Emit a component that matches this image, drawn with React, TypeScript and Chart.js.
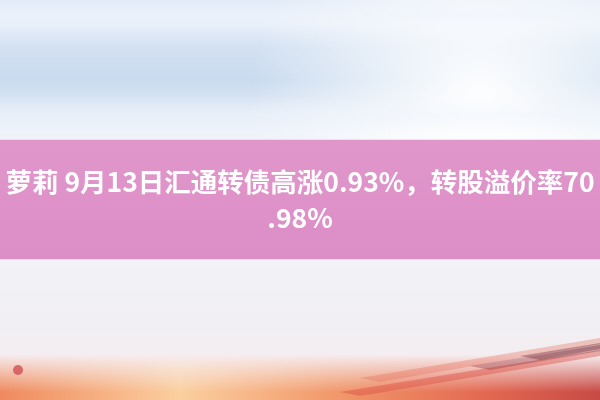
import { useEffect, useRef } from "react";
import Chart from "chart.js/auto";
import type { ChartConfiguration, Plugin } from "chart.js/auto";

// banner "data": one floating band across the picture, plus the headline
const bandLabels = ["headline"];
const bandRange: [number, number][] = [[140, 259]];
const headlineLines = ["萝莉 9月13日汇通转债高涨0.93%，转股溢价率70", ".98%"];
const headlineY = [182, 218];

const softBand = (ctx: CanvasRenderingContext2D, y0: number, y1: number, color: string, width: number) => {
  const g = ctx.createLinearGradient(0, y0, 0, y1);
  g.addColorStop(0, color.replace("A", "0"));
  g.addColorStop(0.5, color.replace("A", "1"));
  g.addColorStop(1, color.replace("A", "0"));
  ctx.fillStyle = g;
  ctx.fillRect(0, y0, width, y1 - y0);
};

const backdrop: Plugin<"bar"> = {
  id: "backdrop",
  beforeDraw(chart) {
    const { ctx, width, height } = chart;
    ctx.save();
    // sky
    const sky = ctx.createLinearGradient(0, 0, 0, height);
    sky.addColorStop(0, "#e2ebf7");
    sky.addColorStop(0.06, "#e8eff9");
    sky.addColorStop(0.12, "#d3e1f2");
    sky.addColorStop(0.2, "#c9dbef");
    sky.addColorStop(0.26, "#dae5f3");
    sky.addColorStop(0.33, "#eef3fa");
    sky.addColorStop(0.66, "#f2f2f7");
    sky.addColorStop(0.8, "#f1eff4");
    sky.addColorStop(1, "#f6ecee");
    ctx.fillStyle = sky;
    ctx.fillRect(0, 0, width, height);

    // bright glow to the right of the sky
    const glow = ctx.createRadialGradient(480, 100, 10, 480, 100, 230);
    glow.addColorStop(0, "rgba(255,255,255,0.95)");
    glow.addColorStop(1, "rgba(255,255,255,0)");
    ctx.fillStyle = glow;
    ctx.fillRect(0, 0, width, 140);

    // soft cloud streaks
    ctx.globalAlpha = 0.5;
    softBand(ctx, 0, 30, "rgba(240,245,252,A)", width);
    softBand(ctx, 95, 135, "rgba(240,245,252,A)", width);
    ctx.globalAlpha = 1;

    // sunset band at the bottom
    const sunset = ctx.createLinearGradient(0, 0, width, 0);
    sunset.addColorStop(0, "#ef8a5e");
    sunset.addColorStop(0.3, "#fbcf9f");
    sunset.addColorStop(0.55, "#f29a6c");
    sunset.addColorStop(0.8, "#e46a52");
    sunset.addColorStop(1, "#c84a45");
    ctx.fillStyle = sunset;
    ctx.fillRect(0, 355, width, 45);
    const fade = ctx.createLinearGradient(0, 355, 0, 392);
    fade.addColorStop(0, "rgba(246,236,238,1)");
    fade.addColorStop(1, "rgba(246,236,238,0)");
    ctx.fillStyle = fade;
    ctx.fillRect(0, 355, width, 45);

    // red brush strokes on the right
    const strokes: [number, number, number, number, string][] = [
      [340, 392, 600, 350, "rgba(220,80,70,0.45)"],
      [360, 378, 600, 338, "rgba(230,110,90,0.35)"],
      [470, 366, 600, 345, "rgba(140,40,50,0.35)"],
      [520, 356, 600, 343, "rgba(120,40,50,0.4)"],
    ];
    strokes.forEach(([x0, y0, x1, y1, c]) => {
      ctx.fillStyle = c;
      ctx.beginPath();
      ctx.moveTo(x0, y0);
      ctx.lineTo(x1, y1);
      ctx.lineTo(x1, y1 + 6);
      ctx.lineTo(x0 + 20, y0 + 4);
      ctx.closePath();
      ctx.fill();
    });
    ctx.fillStyle = "rgba(200,40,50,0.6)";
    ctx.beginPath();
    ctx.arc(18, 370, 5, 0, Math.PI * 2);
    ctx.fill();
    ctx.restore();
  },
};

const headline: Plugin<"bar"> = {
  id: "headline",
  afterDatasetsDraw(chart) {
    const { ctx, chartArea, scales } = chart;
    const x = (chartArea.left + chartArea.right) / 2;
    ctx.save();
    ctx.fillStyle = "#ffffff";
    ctx.textAlign = "center";
    ctx.textBaseline = "middle";
    ctx.font = "bold 26.5px 'Noto Sans CJK SC', sans-serif";
    headlineLines.forEach((line, i) => {
      ctx.fillText(line, x, scales.y.getPixelForValue(headlineY[i]));
    });
    ctx.restore();
  },
};

const App = () => {
  const canvasRef = useRef<HTMLCanvasElement | null>(null);
  const chartRef = useRef<Chart<"bar", [number, number][], string> | null>(null);

  useEffect(() => {
    const ctx = canvasRef.current?.getContext("2d");
    if (!ctx) return;

    const band = ctx.createLinearGradient(0, 140, 0, 259);
    band.addColorStop(0, "#e096cb");
    band.addColorStop(1, "#dc8ec6");

    const config: ChartConfiguration<"bar", [number, number][], string> = {
      type: "bar",
      data: {
        labels: bandLabels,
        datasets: [
          {
            data: bandRange,
            backgroundColor: band,
            borderWidth: 0,
            borderSkipped: false,
            barPercentage: 1,
            categoryPercentage: 1,
          },
        ],
      },
      options: {
        animation: false,
        responsive: true,
        maintainAspectRatio: false,
        layout: { padding: 0 },
        plugins: {
          legend: { display: false },
          tooltip: { enabled: false },
        },
        scales: {
          x: { display: false },
          y: { display: false, min: 0, max: 400, reverse: true },
        },
      },
      plugins: [backdrop, headline],
    };

    chartRef.current = new Chart(ctx, config);
    return () => {
      chartRef.current?.destroy();
      chartRef.current = null;
    };
  }, []);

  return (
    <div style={{ position: "fixed", left: 0, top: 0, width: 600, height: 400 }}>
      <canvas ref={canvasRef} />
    </div>
  );
};

export default App;
